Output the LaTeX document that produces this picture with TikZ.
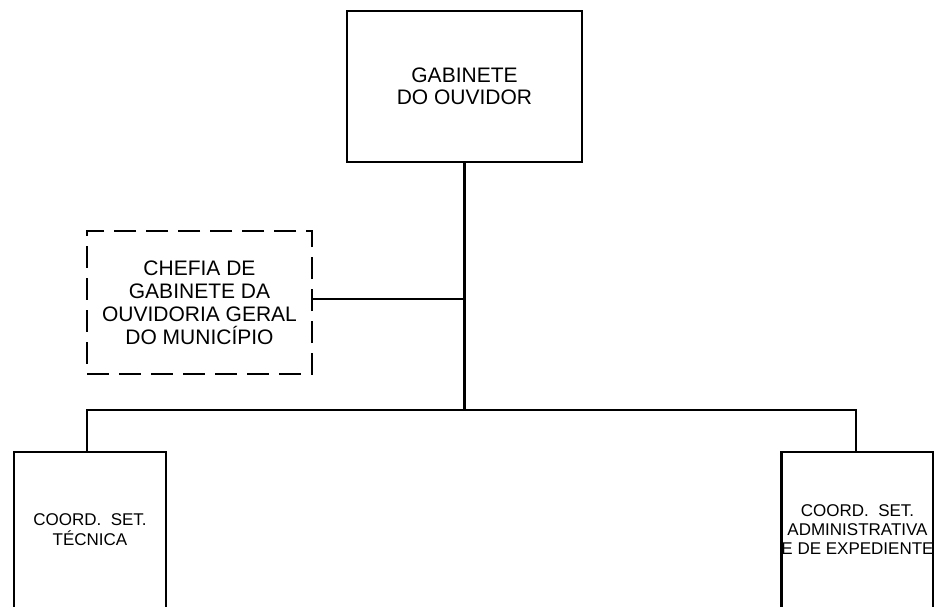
\documentclass[tikz,border=0pt]{standalone}
\usepackage{fontspec}
\setmainfont{Liberation Sans}
\tikzset{
    caixa/.style={draw,line width=2.2pt,align=center,inner sep=0pt},
    caixatrac/.style={caixa,dash pattern=on 22pt off 10pt},
    ligacao/.style={line width=2.2pt}
}
\begin{document}
\begin{tikzpicture}[x=1pt,y=-1pt]
        \useasboundingbox (0,0) rectangle (934,606);
        \node[caixa,minimum width=235pt,minimum height=151pt,font=\fontsize{21}{22}\selectfont] (gabinete) at (464.5,86.5) {GABINETE\\DO OUVIDOR};
        \node[caixatrac,minimum width=225pt,minimum height=143pt,font=\fontsize{21}{23}\selectfont] (chefia) at (199.5,302.5) {CHEFIA DE\\GABINETE DA\\OUVIDORIA GERAL\\DO MUNIC\'IPIO};
        \node[caixa,minimum width=152pt,minimum height=156pt,font=\fontsize{17}{20}\selectfont] (tecnica) at (90,530) {COORD.\ \ SET.\\T\'ECNICA};
        \node[caixa,minimum width=151pt,minimum height=156pt,font=\fontsize{17}{19}\selectfont] (admin) at (857.5,530) {COORD.\ \ SET.\\ADMINISTRATIVA\\E DE EXPEDIENTE};
        \coordinate (barra) at (464.5,410);
        \draw[ligacao] (gabinete.south) -- (barra);
        \draw[ligacao] ([yshift=3.5pt]chefia.east) -- ([yshift=3.5pt]chefia.east -| gabinete.south);
        \draw[ligacao] ([xshift=-3pt]tecnica.north) |- (barra) -| ([xshift=-1.5pt]admin.north);
    \end{tikzpicture}
\end{document}
